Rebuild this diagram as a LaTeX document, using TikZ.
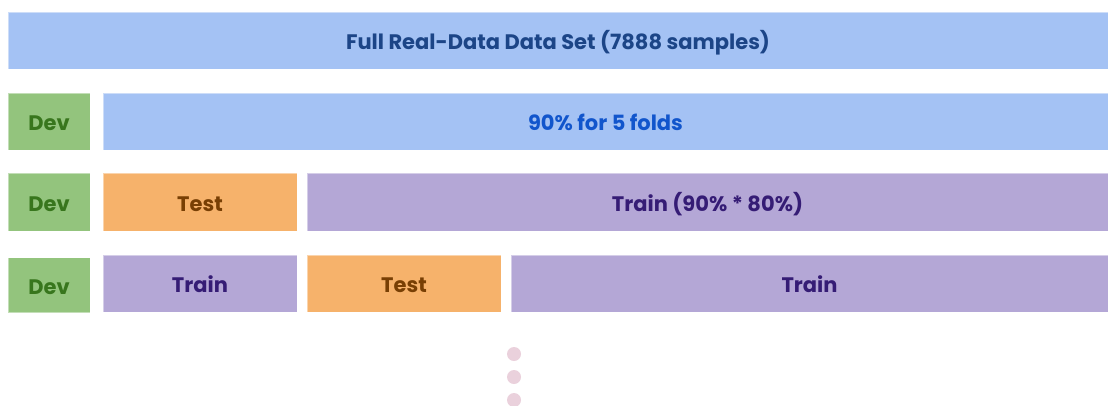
\documentclass[tikz,border=0pt]{standalone}
\usepackage{fontspec}
\setmainfont{Poppins}
\definecolor{cblue}{HTML}{A4C2F4}
\definecolor{cgreen}{HTML}{93C47D}
\definecolor{corange}{HTML}{F6B26B}
\definecolor{cpurple}{HTML}{B4A7D6}
\definecolor{cpink}{HTML}{EAD1DC}
\definecolor{tdarkblue}{HTML}{1C4587}
\definecolor{tblue}{HTML}{1155CC}
\definecolor{tgreen}{HTML}{38761D}
\definecolor{tbrown}{HTML}{783F04}
\definecolor{tpurple}{HTML}{351C75}
\tikzset{
  box/.style={rectangle, inner sep=0pt, draw=white, draw opacity=0.45, line width=0.8pt,
    text height=18.5pt, text depth=0pt,
    font=\fontsize{21}{24}\selectfont\bfseries},
  fullbox/.style={box, fill=cblue, text=tdarkblue},
  foldbox/.style={box, fill=cblue, text=tblue},
  devbox/.style={box, fill=cgreen, text=tgreen},
  testbox/.style={box, fill=corange, text=tbrown},
  trainbox/.style={box, fill=cpurple, text=tpurple},
  dot/.style={circle, fill=cpink, inner sep=0pt, minimum size=14pt}
}
\begin{document}
\begin{tikzpicture}[x=1pt,y=-1pt]
\useasboundingbox (0,0) rectangle (1108,405);
\node[fullbox, minimum width=1100pt, minimum height=57pt] (full) at (558,40.5) {Full Real-Data Data Set (7888 samples)};
% row 2
\node[devbox, minimum width=82pt, minimum height=57pt] (dev1) at (49,121.5) {Dev};
\node[foldbox, minimum width=1005pt, minimum height=57pt] (folds) at (605.5,121.5) {90\% for 5 folds};
% row 3
\node[devbox, minimum width=82pt, minimum height=58pt] (dev2) at (49,202) {Dev};
\node[testbox, minimum width=194pt, minimum height=58pt] (test1) at (200,202) {Test};
\node[trainbox, minimum width=801pt, minimum height=58pt] (train1) at (707.5,202) {Train (90\% * 80\%)};
% row 4
\node[devbox, minimum width=82pt, minimum height=55pt] (dev3) at (49,285) {Dev};
\node[trainbox, minimum width=194pt, minimum height=57pt] (train2) at (200,283.5) {Train};
\node[testbox, minimum width=194pt, minimum height=57pt] (test2) at (404,283.5) {Test};
\node[trainbox, minimum width=597pt, minimum height=57pt] (train3) at (809.5,283.5) {Train};
% dots
\node[dot] (d1) at (514,354) {};
\node[dot] (d2) at (514,377) {};
\node[dot] (d3) at (514,400) {};
\end{tikzpicture}
\end{document}
